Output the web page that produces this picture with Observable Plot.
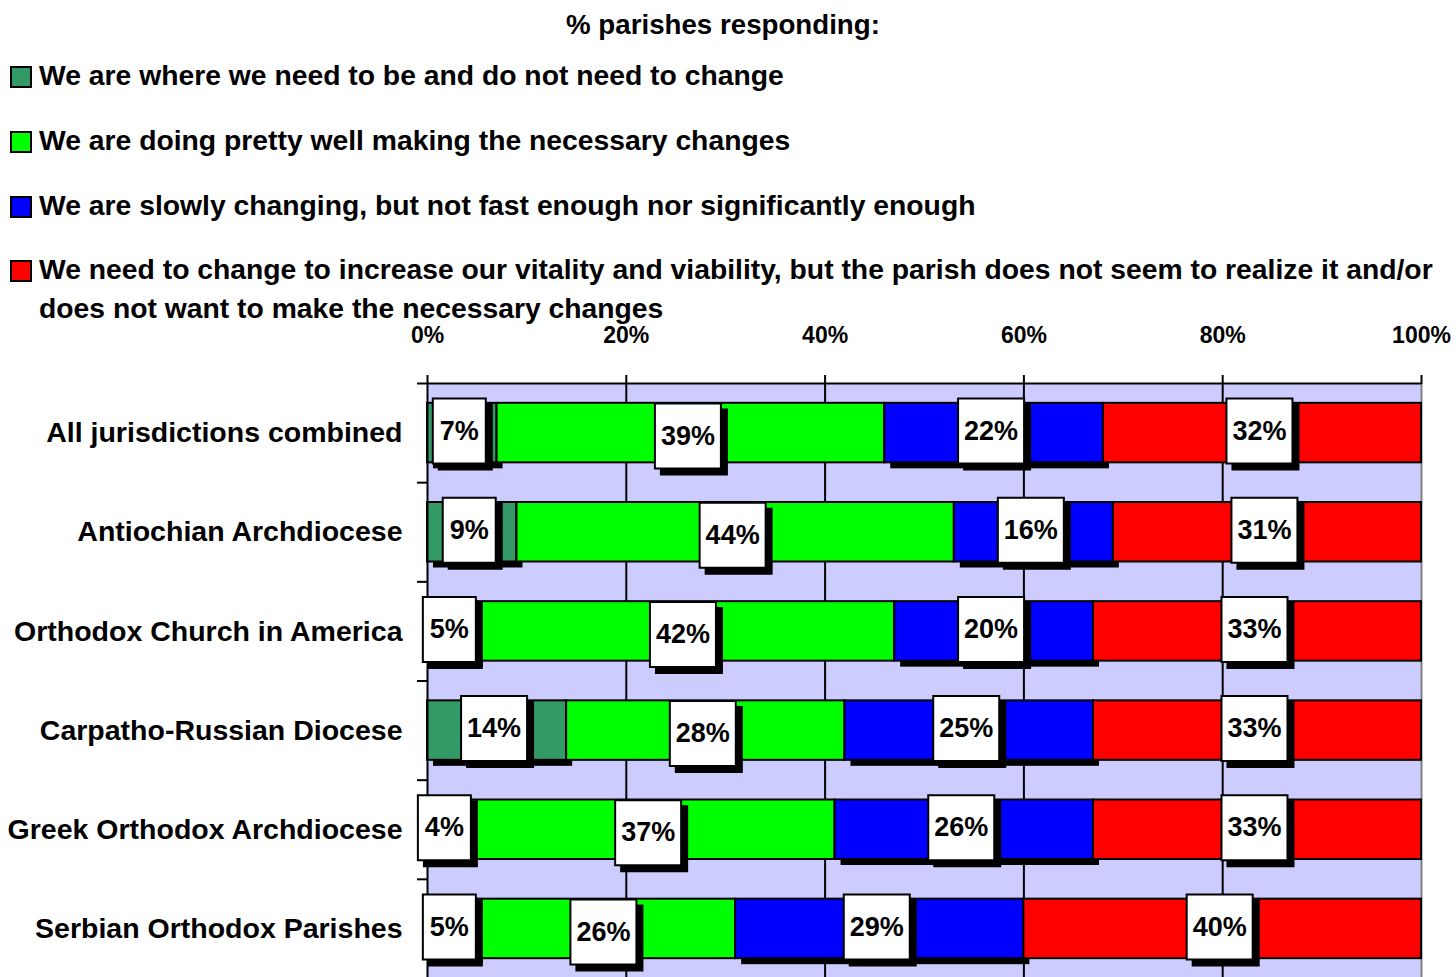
<!DOCTYPE html>
<html>
<head>
<meta charset="utf-8">
<script src="https://cdn.jsdelivr.net/npm/d3@7"></script>
<script src="https://cdn.jsdelivr.net/npm/@observablehq/plot@0.6"></script>
<style>
  html, body { margin: 0; padding: 0; background: #fff; }
  body { width: 1456px; height: 977px; overflow: hidden; position: relative; font-family: "Liberation Sans", Arial, sans-serif; font-weight: bold; color: #000; }
  #title { position: absolute; left: 0; width: 1446px; top: 7px; text-align: center; font-size: 27.7px; line-height: 36px; }
  #legend { position: absolute; left: 10px; top: 56px; width: 1440px; }
  .item { position: absolute; left: 0; display: flex; align-items: flex-start; font-size: 28.3px; line-height: 39px; }
  .swatch { flex: none; width: 18px; height: 18px; border: 2px solid #000; margin-top: 10px; margin-right: 7px; }
  .label { width: 1405px; }
  #chart { position: absolute; left: 0; top: 300px; }
</style>
</head>
<body>
<div id="title"></div>
<div id="legend"></div>
<div id="chart"></div>
<script>
const titleText = "% parishes responding:";
const categories = [
  "All jurisdictions combined",
  "Antiochian Archdiocese",
  "Orthodox Church in America",
  "Carpatho-Russian Diocese",
  "Greek Orthodox Archdiocese",
  "Serbian Orthodox Parishes"
];
const seriesNames = [
  "We are where we need to be and do not need to change",
  "We are doing pretty well making the necessary changes",
  "We are slowly changing, but not fast enough nor significantly enough",
  "We need to change to increase our vitality and viability, but the parish does not seem to realize it and/or does not want to make the necessary changes"
];
const seriesColors = ["#339966", "#00ff00", "#0000ff", "#ff0000"];
const noChangeValues   = [7, 9, 5, 14, 4, 5];
const doingWellValues  = [39, 44, 42, 28, 37, 26];
const slowlyValues     = [22, 16, 20, 25, 26, 29];
const needChangeValues = [32, 31, 33, 33, 33, 40];
const xTicks = [0, 20, 40, 60, 80, 100];

// title + legend (HTML, above the SVG)
document.getElementById("title").textContent = titleText;
const legend = document.getElementById("legend");
const legendTops = [0, 65, 130, 194];
seriesNames.forEach((name, i) => {
  const item = document.createElement("div");
  item.className = "item";
  item.style.top = legendTops[i] + "px";
  const sw = document.createElement("div");
  sw.className = "swatch";
  sw.style.background = seriesColors[i];
  const lab = document.createElement("div");
  lab.className = "label";
  lab.textContent = name;
  item.appendChild(sw);
  item.appendChild(lab);
  legend.appendChild(item);
});

// stacked rows
const allSeries = [noChangeValues, doingWellValues, slowlyValues, needChangeValues];
const rows = [];
categories.forEach((cat, i) => {
  let acc = 0;
  allSeries.forEach((vals, s) => {
    const v = vals[i];
    rows.push({cat, row: i, s, value: v, x1: acc, x2: acc + v, mid: acc + v / 2, label: v + "%"});
    acc += v;
  });
});

const boxSymbol = (w, h) => ({draw(ctx) { ctx.rect(-w / 2, -h / 2, w, h); }});
const narrowBox = boxSymbol(53, 65);
const wideBox = boxSymbol(66, 65);

const shortRows = rows.filter(d => d.label.length === 2);
const longRows = rows.filter(d => d.label.length !== 2);
const labelDx = -3;

function boxes(data, sym, dyv) {
  return [
    Plot.dot(data, {x: "mid", y: d => d.row + 0.5, symbol: sym, fill: "black", stroke: "black", strokeWidth: 2, dx: labelDx + 6, dy: 6 + dyv}),
    Plot.dot(data, {x: "mid", y: d => d.row + 0.5, symbol: sym, fill: "white", stroke: "black", strokeWidth: 2, dx: labelDx, dy: dyv})
  ];
}

const marks = [
  Plot.frame({fill: "#ccccff", stroke: null}),
  Plot.ruleX([20, 40, 60, 80], {stroke: "black", strokeWidth: 2}),
  Plot.ruleX([100], {stroke: "#808080", strokeWidth: 2}),
  Plot.rectX(rows.filter(d => d.s === 0 || d.s === 2), {x1: "x1", x2: "x2", y1: d => d.row + 0.2, y2: d => d.row + 0.8, fill: "black", dx: 6, dy: 6}),
  Plot.rectX(rows, {x1: "x1", x2: "x2", y1: d => d.row + 0.2, y2: d => d.row + 0.8, fill: d => seriesColors[d.s], stroke: "black", strokeWidth: 2}),
  Plot.ruleX([0], {stroke: "black", strokeWidth: 2}),
  Plot.ruleY([0], {stroke: "black", strokeWidth: 2}),
  Plot.axisY({ticks: d3.range(7), tickSize: 10, tickFormat: () => "", strokeWidth: 2}),
  Plot.axisY({ticks: d3.range(6).map(i => i + 0.5), tickSize: 0, tickPadding: 25, tickFormat: t => categories[Math.floor(t)], fontSize: 28.5, fontWeight: "bold"}),
  Plot.axisX({anchor: "top", ticks: xTicks, tickFormat: d => d + "%", tickSize: 9, tickPadding: 32, fontSize: 23, fontWeight: "bold", strokeWidth: 2})
];
for (const s of [0, 1, 2, 3]) {
  const dyv = s === 1 ? 3 : -2;
  marks.push(...boxes(shortRows.filter(d => d.s === s), narrowBox, dyv));
  marks.push(...boxes(longRows.filter(d => d.s === s), wideBox, dyv));
  marks.push(Plot.text(rows.filter(d => d.s === s), {x: "mid", y: d => d.row + 0.5, text: "label", dx: labelDx, dy: dyv, fontSize: 27, fontWeight: "bold", fill: "black"}));
}

const chart = Plot.plot({
  width: 1456,
  height: 680,
  marginTop: 83,
  marginBottom: 2,
  marginLeft: 427,
  marginRight: 35,
  x: {domain: [0, 100]},
  y: {domain: [0, 6], reverse: true},
  style: {fontFamily: "'Liberation Sans', Arial, sans-serif", color: "black", background: "transparent", overflow: "visible"},
  marks
});
document.getElementById("chart").appendChild(chart);
</script>
</body>
</html>
